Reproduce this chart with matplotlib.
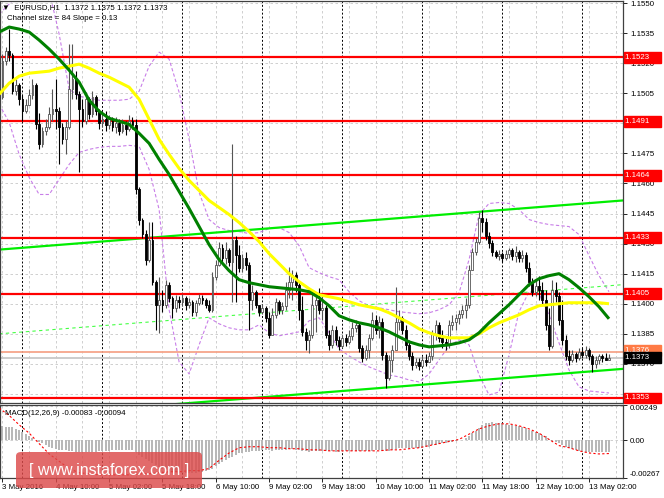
import matplotlib
matplotlib.use("Agg")
import matplotlib.pyplot as plt
from matplotlib.patches import Rectangle, FancyBboxPatch
from matplotlib.collections import PatchCollection, LineCollection
import matplotlib.transforms as mtransforms
import numpy as np

# ---------------- data ----------------
first_open = 1.1503
closes = [1.1521, 1.1526, 1.1524, 1.1506, 1.1509, 1.1502, 1.1496, 1.1499, 1.1504, 1.1509,
 1.14895, 1.14795, 1.1486, 1.1488, 1.14945, 1.1497, 1.1496, 1.1488, 1.1482, 1.1488,
 1.1507, 1.1512, 1.15045, 1.1497, 1.1491, 1.1502, 1.14945, 1.1503, 1.1496, 1.1490,
 1.1492, 1.1489, 1.1492, 1.1488, 1.1490, 1.1486, 1.1489, 1.1487, 1.1491, 1.1489,
 1.1457, 1.1442, 1.1435, 1.1422, 1.1432, 1.1411, 1.13995, 1.1402, 1.13995, 1.14095,
 1.1403, 1.1398, 1.1402, 1.1401, 1.1403, 1.13995, 1.1401, 1.1396, 1.14005, 1.1403,
 1.1402, 1.13995, 1.1397, 1.14135, 1.14195, 1.1428, 1.1423, 1.1427, 1.1421, 1.1432,
 1.14245, 1.1418, 1.1423, 1.14195, 1.1402, 1.1406, 1.13995, 1.1396, 1.1398, 1.1393,
 1.13845, 1.13945, 1.1401, 1.1397, 1.1399, 1.1407, 1.1411, 1.14145, 1.14095, 1.1397,
 1.1386, 1.1382, 1.13845, 1.13995, 1.1402, 1.1397, 1.1398, 1.13845, 1.13795, 1.1387,
 1.1382, 1.1379, 1.1383, 1.1381, 1.1384, 1.1388, 1.13895, 1.1378, 1.1373, 1.1377,
 1.1383, 1.1392, 1.1387, 1.1391, 1.13745, 1.1363, 1.1372, 1.1377, 1.1391, 1.1393,
 1.1387, 1.13795, 1.1374, 1.13695, 1.1371, 1.1369, 1.1372, 1.1371, 1.1374, 1.1385,
 1.13895, 1.1383, 1.1381, 1.13795, 1.13895, 1.1391, 1.1393, 1.1395, 1.1397, 1.13995,
 1.1417, 1.1426, 1.1431, 1.1443, 1.1441, 1.1434, 1.14305, 1.1426, 1.1424, 1.1425,
 1.1423, 1.1425, 1.1427, 1.1424, 1.1426, 1.1423, 1.14245, 1.1418, 1.1411, 1.1406,
 1.1409, 1.1407, 1.1402, 1.13895, 1.1379, 1.1407, 1.1404, 1.1392, 1.1382, 1.1374,
 1.1372, 1.1375, 1.1373, 1.1376, 1.13745, 1.1377, 1.1374, 1.1370, 1.1372, 1.1374,
 1.1373, 1.1372, 1.1373]
highs = [1.15245, 1.1528, 1.1537, 1.1525, 1.1512, 1.1510, 1.1504, 1.1502, 1.1507, 1.1512,
 1.1510, 1.1495, 1.1488, 1.1492, 1.1498, 1.1507, 1.1512, 1.1498, 1.1490, 1.1491,
 1.15295, 1.15295, 1.1516, 1.1506, 1.1502, 1.15055, 1.1503, 1.1506, 1.1504, 1.1497,
 1.1495, 1.1496, 1.1494, 1.1493, 1.1493, 1.1492, 1.1492, 1.1491, 1.1494, 1.1493,
 1.1492, 1.1458, 1.1443, 1.1437, 1.1441, 1.1441, 1.1412, 1.14135, 1.1407, 1.1412,
 1.1411, 1.1404, 1.14045, 1.1404, 1.1405, 1.1404, 1.1403, 1.1402, 1.1402, 1.1405,
 1.14045, 1.1403, 1.1402, 1.1416, 1.1422, 1.1431, 1.1430, 1.1431, 1.1428, 1.14795,
 1.1434, 1.14295, 1.1425, 1.1426, 1.1421, 1.14095, 1.1407, 1.13995, 1.1400, 1.1399,
 1.1396, 1.1398, 1.1403, 1.1402, 1.1401, 1.1411, 1.14185, 1.1417, 1.1416, 1.1411,
 1.1404, 1.1388, 1.1387, 1.1407, 1.14045, 1.1408, 1.14045, 1.13995, 1.1387, 1.13895,
 1.1389, 1.1384, 1.13845, 1.1385, 1.1387, 1.1391, 1.1392, 1.1391, 1.13795, 1.13795,
 1.1385, 1.1396, 1.13945, 1.1394, 1.1393, 1.1376, 1.13745, 1.13795, 1.14085, 1.1397,
 1.1394, 1.13895, 1.1382, 1.1376, 1.1373, 1.1373, 1.1374, 1.1375, 1.1376, 1.1387,
 1.1392, 1.1391, 1.1387, 1.1383, 1.1392, 1.13945, 1.1395, 1.1397, 1.13995, 1.1403,
 1.14195, 1.1428, 1.1433, 1.1446, 1.1447, 1.1443, 1.1436, 1.1432, 1.1427, 1.1427,
 1.1426, 1.1427, 1.1428, 1.1428, 1.1429, 1.1427, 1.1427, 1.1426, 1.1421, 1.1413,
 1.1412, 1.1414, 1.1411, 1.1407, 1.1398, 1.1412, 1.1411, 1.1406, 1.1402, 1.13845,
 1.1377, 1.1377, 1.1376, 1.1378, 1.1378, 1.1379, 1.1378, 1.1375, 1.1374, 1.1375,
 1.1375, 1.13755, 1.1375]
lows = [1.1502, 1.1519, 1.1521, 1.15045, 1.1504, 1.1499, 1.1491, 1.1495, 1.1500, 1.1502,
 1.1487, 1.1477, 1.1478, 1.1484, 1.1487, 1.1491, 1.1487, 1.14695, 1.14795, 1.14745,
 1.1487, 1.1502, 1.1502, 1.14655, 1.1488, 1.14895, 1.1492, 1.1493, 1.1494, 1.1487,
 1.1488, 1.1486, 1.1487, 1.1486, 1.1485, 1.1484, 1.1485, 1.1484, 1.1486, 1.1487,
 1.14545, 1.14395, 1.1433, 1.14195, 1.1421, 1.14095, 1.1387, 1.13855, 1.1396, 1.1398,
 1.1401, 1.1393, 1.1396, 1.1398, 1.1399, 1.1397, 1.1398, 1.1394, 1.1394, 1.13995,
 1.1400, 1.1398, 1.1396, 1.1396, 1.1412, 1.1419, 1.1421, 1.1420, 1.1419, 1.1401,
 1.1401, 1.1416, 1.1416, 1.1417, 1.1387, 1.1397, 1.1398, 1.1394, 1.1395, 1.1391,
 1.1383, 1.1385, 1.1393, 1.1395, 1.1395, 1.1397, 1.1403, 1.1402, 1.1406, 1.1392,
 1.1384, 1.1377, 1.13755, 1.1383, 1.1386, 1.1395, 1.1392, 1.1383, 1.1377, 1.1378,
 1.13795, 1.1377, 1.1378, 1.1379, 1.1380, 1.1382, 1.1386, 1.1376, 1.1371, 1.1372,
 1.1373, 1.1382, 1.1385, 1.1383, 1.1372, 1.1358, 1.1362, 1.1366, 1.1377, 1.1387,
 1.1385, 1.1377, 1.1372, 1.1367, 1.1368, 1.1367, 1.1369, 1.1369, 1.1371, 1.1372,
 1.1382, 1.1381, 1.1378, 1.1377, 1.1378, 1.1387, 1.1387, 1.1390, 1.1393, 1.1393,
 1.1398, 1.1417, 1.14245, 1.1430, 1.1436, 1.1432, 1.1428, 1.1424, 1.1423, 1.1422,
 1.1421, 1.1422, 1.1423, 1.1422, 1.1421, 1.1421, 1.1421, 1.1416, 1.1409, 1.1404,
 1.1404, 1.1402, 1.13995, 1.1387, 1.1377, 1.1378, 1.1401, 1.13895, 1.13795, 1.1372,
 1.13695, 1.1371, 1.1371, 1.1372, 1.1373, 1.1373, 1.1372, 1.1366, 1.1368, 1.1370,
 1.1371, 1.1372, 1.1372]

# indicator lines sampled every 3 bars (bar 0, 3, ..., 183)
green_ma = [1.15355, 1.1538, 1.1537, 1.15355, 1.15315, 1.1527, 1.1522, 1.15165, 1.15105, 1.15015,
 1.1496, 1.14925, 1.1491, 1.14895, 1.1485, 1.1480, 1.1472, 1.14645, 1.1456, 1.14475,
 1.14385, 1.14295, 1.1422, 1.14165, 1.1412, 1.14105, 1.14095, 1.14085, 1.1408, 1.14075,
 1.1407, 1.1406, 1.1403, 1.1399, 1.1394, 1.1392, 1.13905, 1.13895, 1.1388, 1.1386,
 1.13835, 1.1381, 1.13795, 1.13785, 1.1379, 1.13795, 1.13805, 1.1382, 1.13855, 1.13905,
 1.1395, 1.13995, 1.14045, 1.14095, 1.14125, 1.1414, 1.1415, 1.1412, 1.1408, 1.14035,
 1.13985, 1.13925]
yellow_ma = [1.15045, 1.1510, 1.15135, 1.1515, 1.15155, 1.1516, 1.15175, 1.15185, 1.15195, 1.15175,
 1.1515, 1.1513, 1.15105, 1.1508, 1.1502, 1.1492, 1.1482, 1.14745, 1.14675, 1.14615,
 1.14565, 1.14515, 1.1448, 1.14445, 1.14405, 1.1436, 1.1431, 1.1425, 1.1420, 1.1415,
 1.1411, 1.14075, 1.14045, 1.14035, 1.14025, 1.1401, 1.13995, 1.13985, 1.13975, 1.13955,
 1.1393, 1.13905, 1.13875, 1.13855, 1.1384, 1.1383, 1.1383, 1.1383, 1.1385, 1.1388,
 1.13905, 1.13925, 1.13945, 1.1397, 1.1399, 1.13995, 1.1400, 1.14005, 1.14005, 1.14005,
 1.14005, 1.1400]
upper_band = [1.15445, 1.15495, 1.15545, 1.1557, 1.1558, 1.1556, 1.15345, 1.1507, 1.15035, 1.15025,
 1.15015, 1.15015, 1.15015, 1.1502, 1.1506, 1.15185, 1.15255, 1.1522, 1.15055, 1.1482,
 1.14555, 1.1442, 1.1438, 1.14365, 1.1436, 1.1435, 1.14355, 1.14375, 1.1438, 1.14355,
 1.1429, 1.1418, 1.14155, 1.14135, 1.1412, 1.1406, 1.14015, 1.1399, 1.1398, 1.1397,
 1.1396, 1.13955, 1.1395, 1.13955, 1.1397, 1.13995, 1.14055, 1.1422, 1.14445, 1.1450,
 1.14505, 1.1450, 1.1447, 1.1442, 1.14405, 1.14395, 1.1439, 1.14385, 1.14345, 1.1424,
 1.1414, 1.1406]
lower_band = [1.14995, 1.14905, 1.14745, 1.1463, 1.14545, 1.14545, 1.1462, 1.14695, 1.14755, 1.1477,
 1.1478, 1.14785, 1.14785, 1.1479, 1.14785, 1.1467, 1.1447, 1.1397, 1.1371, 1.1365,
 1.13795, 1.1393, 1.1390, 1.1388, 1.1387, 1.1387, 1.13895, 1.13855, 1.1384, 1.1385,
 1.1386, 1.13915, 1.1393, 1.13855, 1.13775, 1.1374, 1.1371, 1.13685, 1.13665, 1.13645,
 1.13635, 1.1362, 1.1361, 1.1365, 1.1372, 1.1379, 1.1382, 1.13795, 1.13645, 1.13545,
 1.1356, 1.13745, 1.1396, 1.1406, 1.1405, 1.13945, 1.13805, 1.1367, 1.13585, 1.13565,
 1.1356, 1.13555]

# MACD (x 1e-5)
macd_main = [98, 96, 94, 90, 80, 71, 58, 44, 31, 18,
 4, -9, -22, -34, -45, -55, -62, -67, -69, -71,
 -73, -76, -80, -82, -84, -84, -84, -82, -80, -78,
 -76, -75, -73, -71, -69, -68, -68, -68, -67, -68,
 -84, -102, -120, -133, -147, -160, -178, -191, -200, -209,
 -215, -222, -227, -229, -231, -233, -233, -231, -229, -227,
 -225, -220, -213, -200, -182, -169, -156, -142, -129, -116,
 -102, -93, -87, -80, -80, -78, -76, -73, -71, -69,
 -71, -73, -71, -69, -68, -66, -64, -64, -68, -71,
 -76, -78, -80, -78, -76, -75, -73, -73, -76, -78,
 -80, -80, -79, -78, -76, -75, -74, -75, -76, -78,
 -76, -73, -71, -71, -73, -75, -73, -69, -62, -58,
 -55, -53, -53, -55, -55, -53, -52, -49, -45, -37,
 -31, -27, -22, -18, -13, -9, -5, 0, 4, 13,
 31, 49, 66, 89, 106, 120, 124, 126, 124, 122,
 120, 115, 111, 106, 102, 98, 93, 84, 75, 66,
 58, 49, 40, 27, 9, -5, -13, -22, -36, -49,
 -58, -64, -69, -73, -76, -80, -82, -84, -85, -85,
 -84, -84, -83]
macd_signal = [227, 175, 109, 50, -24, -97, -149, -200, -230, -237,
 -245, -245, -245, -245, -237, -237, -230, -223, -223, -215,
 -215, -200, -142, -90, -53, -46, -46, -53, -53, -60,
 -60, -68, -68, -75, -75, -75, -75, -75, -75, -68,
 -68, -60, -53, -38, -24, -9, 6, 43, 80, 102,
 116, 116, 102, 80, 50, 6, -38, -53, -75, -90,
 -97, -94]

levels = [1.1523, 1.1491, 1.1464, 1.1433, 1.1405, 1.1353]
stop_level = 1.1376
bid = 1.1373
channel_x = [0, 187]
channel_upper = [1.1427, 1.14515]
channel_size = 0.0084

price_ticks = [1.1355, 1.1370, 1.1385, 1.1400, 1.1415, 1.1430, 1.1445, 1.1460,
               1.1475, 1.1490, 1.1505, 1.1520, 1.1535, 1.1550]
hidden_ticks = [1.1355, 1.1490]
time_idx = [1, 17, 33, 49, 65, 81, 97, 113, 129, 145, 161, 177]
time_lbl = ['3 May 2016', '4 May 10:00', '5 May 02:00', '5 May 18:00', '6 May 10:00',
            '9 May 02:00', '9 May 18:00', '10 May 10:00', '11 May 02:00',
            '11 May 18:00', '12 May 10:00', '13 May 02:00']
day_idx = [7, 31, 55, 79, 103, 127, 151, 175]

# ---------------- figure ----------------
FONT = 'Liberation Sans'
FS = 5.7
plt.rcParams['font.family'] = [FONT, 'DejaVu Sans']
W, H = 664, 498
fig = plt.figure(figsize=(W / 100, H / 100), dpi=100)
fig.patch.set_facecolor('white')

def fy(py):
    return 1 - py / H

ax = fig.add_axes([0.0, fy(403), 623 / W, fy(1) - fy(403)])
mx = fig.add_axes([0.0, fy(478), 623 / W, fy(405) - fy(478)])

XMIN, XMAX = 0.25, 187.2
for a in (ax, mx):
    a.set_xlim(XMIN, XMAX)
    a.set_facecolor('white')
    for s in a.spines.values():
        s.set_color('#404040')
        s.set_linewidth(0.9)

ax.set_ylim(1.13505, 1.1551)
mx.set_ylim(-0.00267, 0.00249)

grid_kw = dict(color='#c8c8c8', lw=0.6, ls=(0, (3, 3)), zorder=0)
for t in price_ticks:
    ax.axhline(t, **grid_kw)
for gx in range(1, 188, 8):
    ax.axvline(gx, **grid_kw)
    mx.axvline(gx, **grid_kw)
for g in (0.0, 0.00249 * 0.98):
    mx.axhline(g, **grid_kw)
for d in day_idx:
    ax.axvline(d, color='#000000', lw=0.7, ls=(0, (2, 2)), zorder=0.5)
    mx.axvline(d, color='#000000', lw=0.7, ls=(0, (2, 2)), zorder=0.5)

n = len(closes)
bars = np.arange(1, n + 1)
opens = [first_open] + closes[:-1]

# bands, MAs
sx = np.arange(0, 184, 3)
ax.plot(sx, upper_band, color='#c87ee8', lw=0.8, ls=(0, (3, 2)), zorder=1)
ax.plot(sx, lower_band, color='#c87ee8', lw=0.8, ls=(0, (3, 2)), zorder=1)

# channel
cu = np.array(channel_upper)
ax.plot(channel_x, cu, color='#00ee00', lw=1.6, zorder=2)
ax.plot(channel_x, cu - channel_size, color='#00ee00', lw=1.6, zorder=2)
ax.plot(channel_x, cu - channel_size / 2, color='#44ff44', lw=0.8, ls=(0, (3, 3)), zorder=2)

# horizontal levels
for lv in levels:
    ax.axhline(lv, color='#ff0000', lw=1.6, zorder=2)
ax.axhline(stop_level, color='#f6a58a', lw=1.3, zorder=2)
ax.axhline(bid, color='#c8c8c8', lw=1.3, zorder=2)

# candles
wick_segs_bull, wick_segs_bear = [], []
bodies_bull, bodies_bear = [], []
bw = 0.56
for i, o, h, l, c in zip(bars, opens, highs, lows, closes):
    lo_b, hi_b = min(o, c), max(o, c)
    hgt = max(hi_b - lo_b, 0.00002)
    if c >= o:
        wick_segs_bull.append([(i, l), (i, h)])
        bodies_bull.append(Rectangle((i - bw / 2, lo_b), bw, hgt))
    else:
        wick_segs_bear.append([(i, l), (i, h)])
        bodies_bear.append(Rectangle((i - bw / 2, lo_b), bw, hgt))
ax.add_collection(LineCollection(wick_segs_bull, colors='#555555', linewidths=0.8, zorder=3))
ax.add_collection(LineCollection(wick_segs_bear, colors='#000000', linewidths=0.8, zorder=3))
ax.add_collection(PatchCollection(bodies_bull, facecolor='white', edgecolor='#555555', linewidth=0.6, zorder=4))
ax.add_collection(PatchCollection(bodies_bear, facecolor='black', edgecolor='black', linewidth=0.6, zorder=4))

ax.plot(sx, yellow_ma, color='#ffff00', lw=2.2, zorder=5, solid_capstyle='butt')
ax.plot(sx, green_ma, color='#008000', lw=2.2, zorder=5, solid_capstyle='butt')

# axes ticks main
ax.yaxis.tick_right()
ax.set_yticks(price_ticks)
ax.set_yticklabels(['' if t in hidden_ticks else '%.4f' % t for t in price_ticks])
ax.tick_params(axis='y', labelsize=FS, length=3, width=0.6, pad=2, colors='#000000')
ax.set_xticks([])

# right labels
trans = mtransforms.blended_transform_factory(ax.transAxes, ax.transData)
def plabel(y, txt, fc, tc='white'):
    ax.text(1.004, y, txt, transform=trans, fontsize=FS, color=tc, va='center', ha='left',
            clip_on=False, zorder=10,
            bbox=dict(boxstyle='square,pad=0.25', facecolor=fc, edgecolor=fc))
for lv in levels:
    plabel(lv, '%.4f' % lv + '    ', '#ff0000')
plabel(stop_level + 0.00008, '%.4f' % stop_level + '    ', '#ff7a45')
plabel(bid, '%.4f' % bid + '    ', '#000000')

# header text
ax.text(0.004, 0.993, '\u25BC  EURUSD,H1  1.1372 1.1375 1.1372 1.1373', transform=ax.transAxes,
        fontsize=FS, va='top', ha='left', color='#000000', zorder=11)
ax.text(0.012, 0.965, 'Channel size = 84 Slope = 0.13', transform=ax.transAxes,
        fontsize=FS, va='top', ha='left', color='#000000', zorder=11)

# MACD
mm = np.array(macd_main) * 1e-5
ms = np.array(macd_signal) * 1e-5
mx.bar(bars, mm, width=0.6, color='#b8b8b8', zorder=2)
mx.plot(sx, ms, color='#ff0000', lw=0.8, ls=(0, (2, 2)), zorder=3)
mx.yaxis.tick_right()
mx.set_yticks([0.00249, 0.0, -0.00267])
mx.set_yticklabels(['0.00249', '0.00', '-0.00267'])
mx.tick_params(axis='y', labelsize=FS, length=3, width=0.6, pad=2)
labs = mx.get_yticklabels()
labs[0].set_va('top')
labs[2].set_va('bottom')
mx.set_xticks(time_idx)
mx.set_xticklabels(time_lbl)
mx.tick_params(axis='x', labelsize=FS, length=3, width=0.6, pad=1.5)
for t in mx.get_xticklabels():
    t.set_ha('left')
mx.text(0.008, 0.93, 'MACD(12,26,9) -0.00083 -0.00094', transform=mx.transAxes,
        fontsize=FS, va='top', ha='left', color='#000000')

# watermark
wm = FancyBboxPatch((16 / W, fy(488)), (202 - 16) / W, (488 - 452) / H,
                    boxstyle='round,pad=0,rounding_size=0.008', transform=fig.transFigure,
                    facecolor='#dc4a4a', edgecolor='none', alpha=0.82, zorder=20)
fig.patches.append(wm)
fig.text(109 / W, fy(470), '[ www.instaforex.com ]', fontsize=11.5, color='white',
         ha='center', va='center', zorder=21)

fig.savefig('out.png', dpi=100)
